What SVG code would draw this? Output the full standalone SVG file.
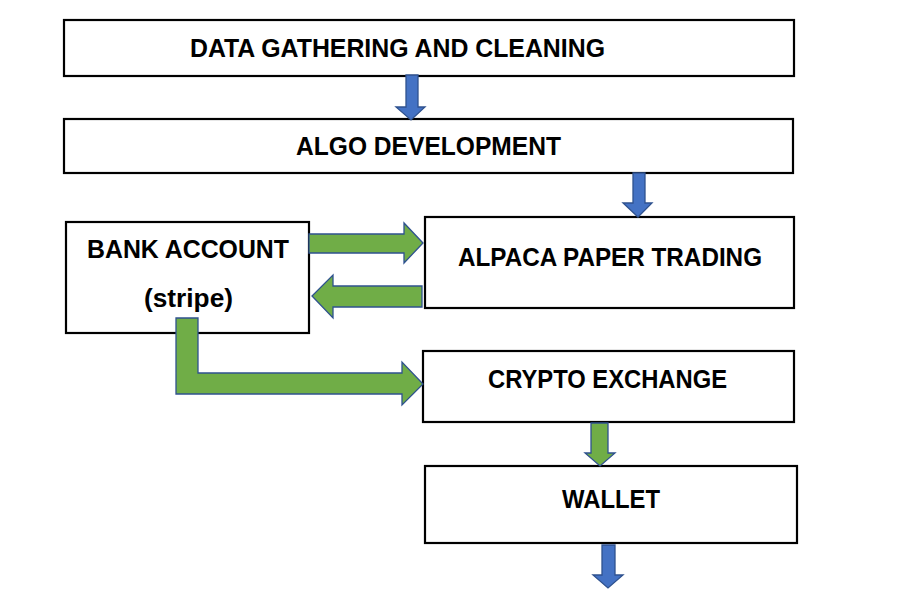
<svg xmlns="http://www.w3.org/2000/svg" width="900" height="589" viewBox="0 0 900 589">
<style>
.box{fill:#ffffff;stroke:#000000;stroke-width:2.2}
.lbl{font-family:"Liberation Sans",Arial,sans-serif;font-weight:bold;font-size:26px;fill:#000000}
.blue{fill:#4472C4;stroke:#2F528F;stroke-width:1.3}
.green{fill:#70AD47;stroke:#2F528F;stroke-width:1.3}
</style>
<rect width="900" height="589" fill="#ffffff"/>
<g id="node-data">
<rect class="box" x="64" y="20" width="730" height="56"/>
<text class="lbl" x="190" y="57" textLength="415" lengthAdjust="spacingAndGlyphs">DATA GATHERING AND CLEANING</text>
</g>
<g id="node-algo">
<rect class="box" x="64" y="119" width="729" height="54"/>
<text class="lbl" x="296" y="155" textLength="265" lengthAdjust="spacingAndGlyphs">ALGO DEVELOPMENT</text>
</g>
<g id="node-alpaca">
<rect class="box" x="425" y="217" width="369" height="91"/>
<text class="lbl" x="458" y="266" textLength="304" lengthAdjust="spacingAndGlyphs">ALPACA PAPER TRADING</text>
</g>
<g id="node-bank">
<rect class="box" x="66" y="222" width="243" height="111"/>
<text class="lbl" x="87" y="258" textLength="202" lengthAdjust="spacingAndGlyphs">BANK ACCOUNT</text>
<text class="lbl" x="144" y="307" textLength="89" lengthAdjust="spacingAndGlyphs">(stripe)</text>
</g>
<g id="node-crypto">
<rect class="box" x="423" y="351" width="371" height="71"/>
<text class="lbl" x="488" y="388" textLength="239" lengthAdjust="spacingAndGlyphs">CRYPTO EXCHANGE</text>
</g>
<g id="node-wallet">
<rect class="box" x="425" y="466" width="372" height="77"/>
<text class="lbl" x="562" y="508" textLength="98" lengthAdjust="spacingAndGlyphs">WALLET</text>
</g>
<g id="connectors">
<polygon class="blue" points="406,75 418,75 418,107 425,107 411,120 396,107 406,107"/>
<polygon class="blue" points="633,173 645,173 645,203 652,203 638,217 623,203 633,203"/>
<polygon class="green" points="309,234 404,234 404,223 423,243 404,263 404,253 309,253"/>
<polygon class="green" points="422,286 333,286 333,275 312,296 333,318 333,307 422,307"/>
<polygon class="green" points="176,318 198,318 198,373 402,373 402,362 423,384 402,405 402,394 176,394"/>
<polygon class="green" points="591,423 608,423 608,453 615,453 600,466 585,453 591,453"/>
<polygon class="blue" points="602,545 615,545 615,575 623,575 608,588 593,575 602,575"/>
</g>
</svg>
